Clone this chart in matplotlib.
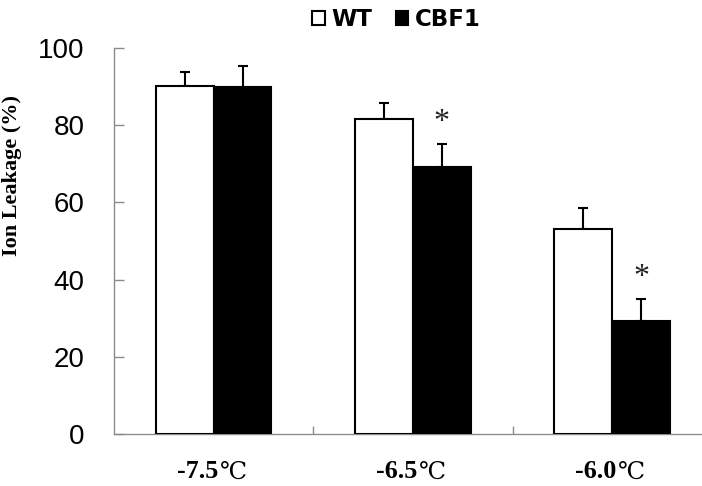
import matplotlib
matplotlib.use("Agg")
import matplotlib.pyplot as plt
from matplotlib.offsetbox import TextArea, HPacker, AnnotationBbox
import numpy as np

categories = ["-7.5", "-6.5", "-6.0"]
unit = "℃"
series_names = ["WT", "CBF1"]
wt_values = [90.2, 81.5, 53.0]
wt_errors = [3.7, 4.2, 5.6]
cbf1_values = [89.9, 69.3, 29.3]
cbf1_errors = [5.5, 5.8, 5.6]
# significance marks: (group index, y value)
sig_groups = [1, 2]
sig_y = [80.8, 40.5]
y_ticks = [0, 20, 40, 60, 80, 100]

W, H = 702, 486
fig = plt.figure(figsize=(W / 100, H / 100), dpi=100)
left_px, bottom_px, top_px = 114, 434, 48
group_px = 199.3
ax = fig.add_axes([left_px / W, 1 - bottom_px / H, (W - left_px) / W, (bottom_px - top_px) / H])

x = np.arange(len(categories)) + 0.5
bw = 0.29
grey = "#8c8c8c"

b1 = ax.bar(x - bw / 2, wt_values, bw, color="white", edgecolor="black", linewidth=1.5, zorder=3)
b2 = ax.bar(x + bw / 2, cbf1_values, bw, color="black", edgecolor="black", linewidth=1.5, zorder=3)
ax.errorbar(x - bw / 2, wt_values, yerr=[np.zeros(3), wt_errors], fmt="none", ecolor="black",
            elinewidth=1.5, capsize=3.3, capthick=1.5, zorder=2)
ax.errorbar(x + bw / 2, cbf1_values, yerr=[np.zeros(3), cbf1_errors], fmt="none", ecolor="black",
            elinewidth=1.5, capsize=3.3, capthick=1.5, zorder=2)

for g, yv in zip(sig_groups, sig_y):
    ax.text(x[g] + bw / 2, yv, "*", ha="center", va="center", fontsize=23,
            family="Liberation Serif", color="#222222")

ax.set_xlim(0, (W - left_px) / group_px)
ax.set_ylim(0, 100)
ax.set_yticks(y_ticks)
ax.set_yticklabels([str(t) for t in y_ticks], fontsize=20, family="Liberation Sans")
ax.tick_params(axis="y", direction="in", length=7, width=1.0, color=grey, pad=21)

ax.set_xticks([1, 2])
ax.set_xticklabels([])
ax.tick_params(axis="x", which="major", direction="in", length=6, width=1.0, color=grey)

for xi, cat in zip(x, categories):
    t1 = TextArea(cat, textprops=dict(family="Liberation Serif", fontweight="bold", fontsize=18.8))
    t2 = TextArea(unit, textprops=dict(family=["DejaVu Serif", "Noto Sans CJK SC"], fontsize=17.5,
                                       fontweight="light"))
    pack = HPacker(children=[t1, t2], sep=1, pad=0, align="baseline")
    ab = AnnotationBbox(pack, (xi, 0), xycoords=("data", "axes fraction"), xybox=(-1.5, -19),
                        boxcoords="offset points", box_alignment=(0.5, 1), frameon=False, pad=0)
    ax.add_artist(ab)

for s in ["top", "right"]:
    ax.spines[s].set_visible(False)
for s in ["left", "bottom"]:
    ax.spines[s].set_color(grey)
    ax.spines[s].set_linewidth(1.0)

ax.set_ylabel("Ion Leakage (%)", family="Liberation Serif", fontweight="bold", fontsize=16)
ax.yaxis.set_label_coords(-(left_px - 22) / (W - left_px), (bottom_px - 176) / (bottom_px - top_px))

leg = fig.legend([b1, b2], series_names, loc="upper center", bbox_to_anchor=(0.565, 1.025), ncol=2,
                 frameon=False, handlelength=0.55, handleheight=0.55, handletextpad=0.3, columnspacing=1.0,
                 prop={"family": "DejaVu Sans", "weight": "bold", "size": 16.5})

fig.savefig("out.png", dpi=100)
